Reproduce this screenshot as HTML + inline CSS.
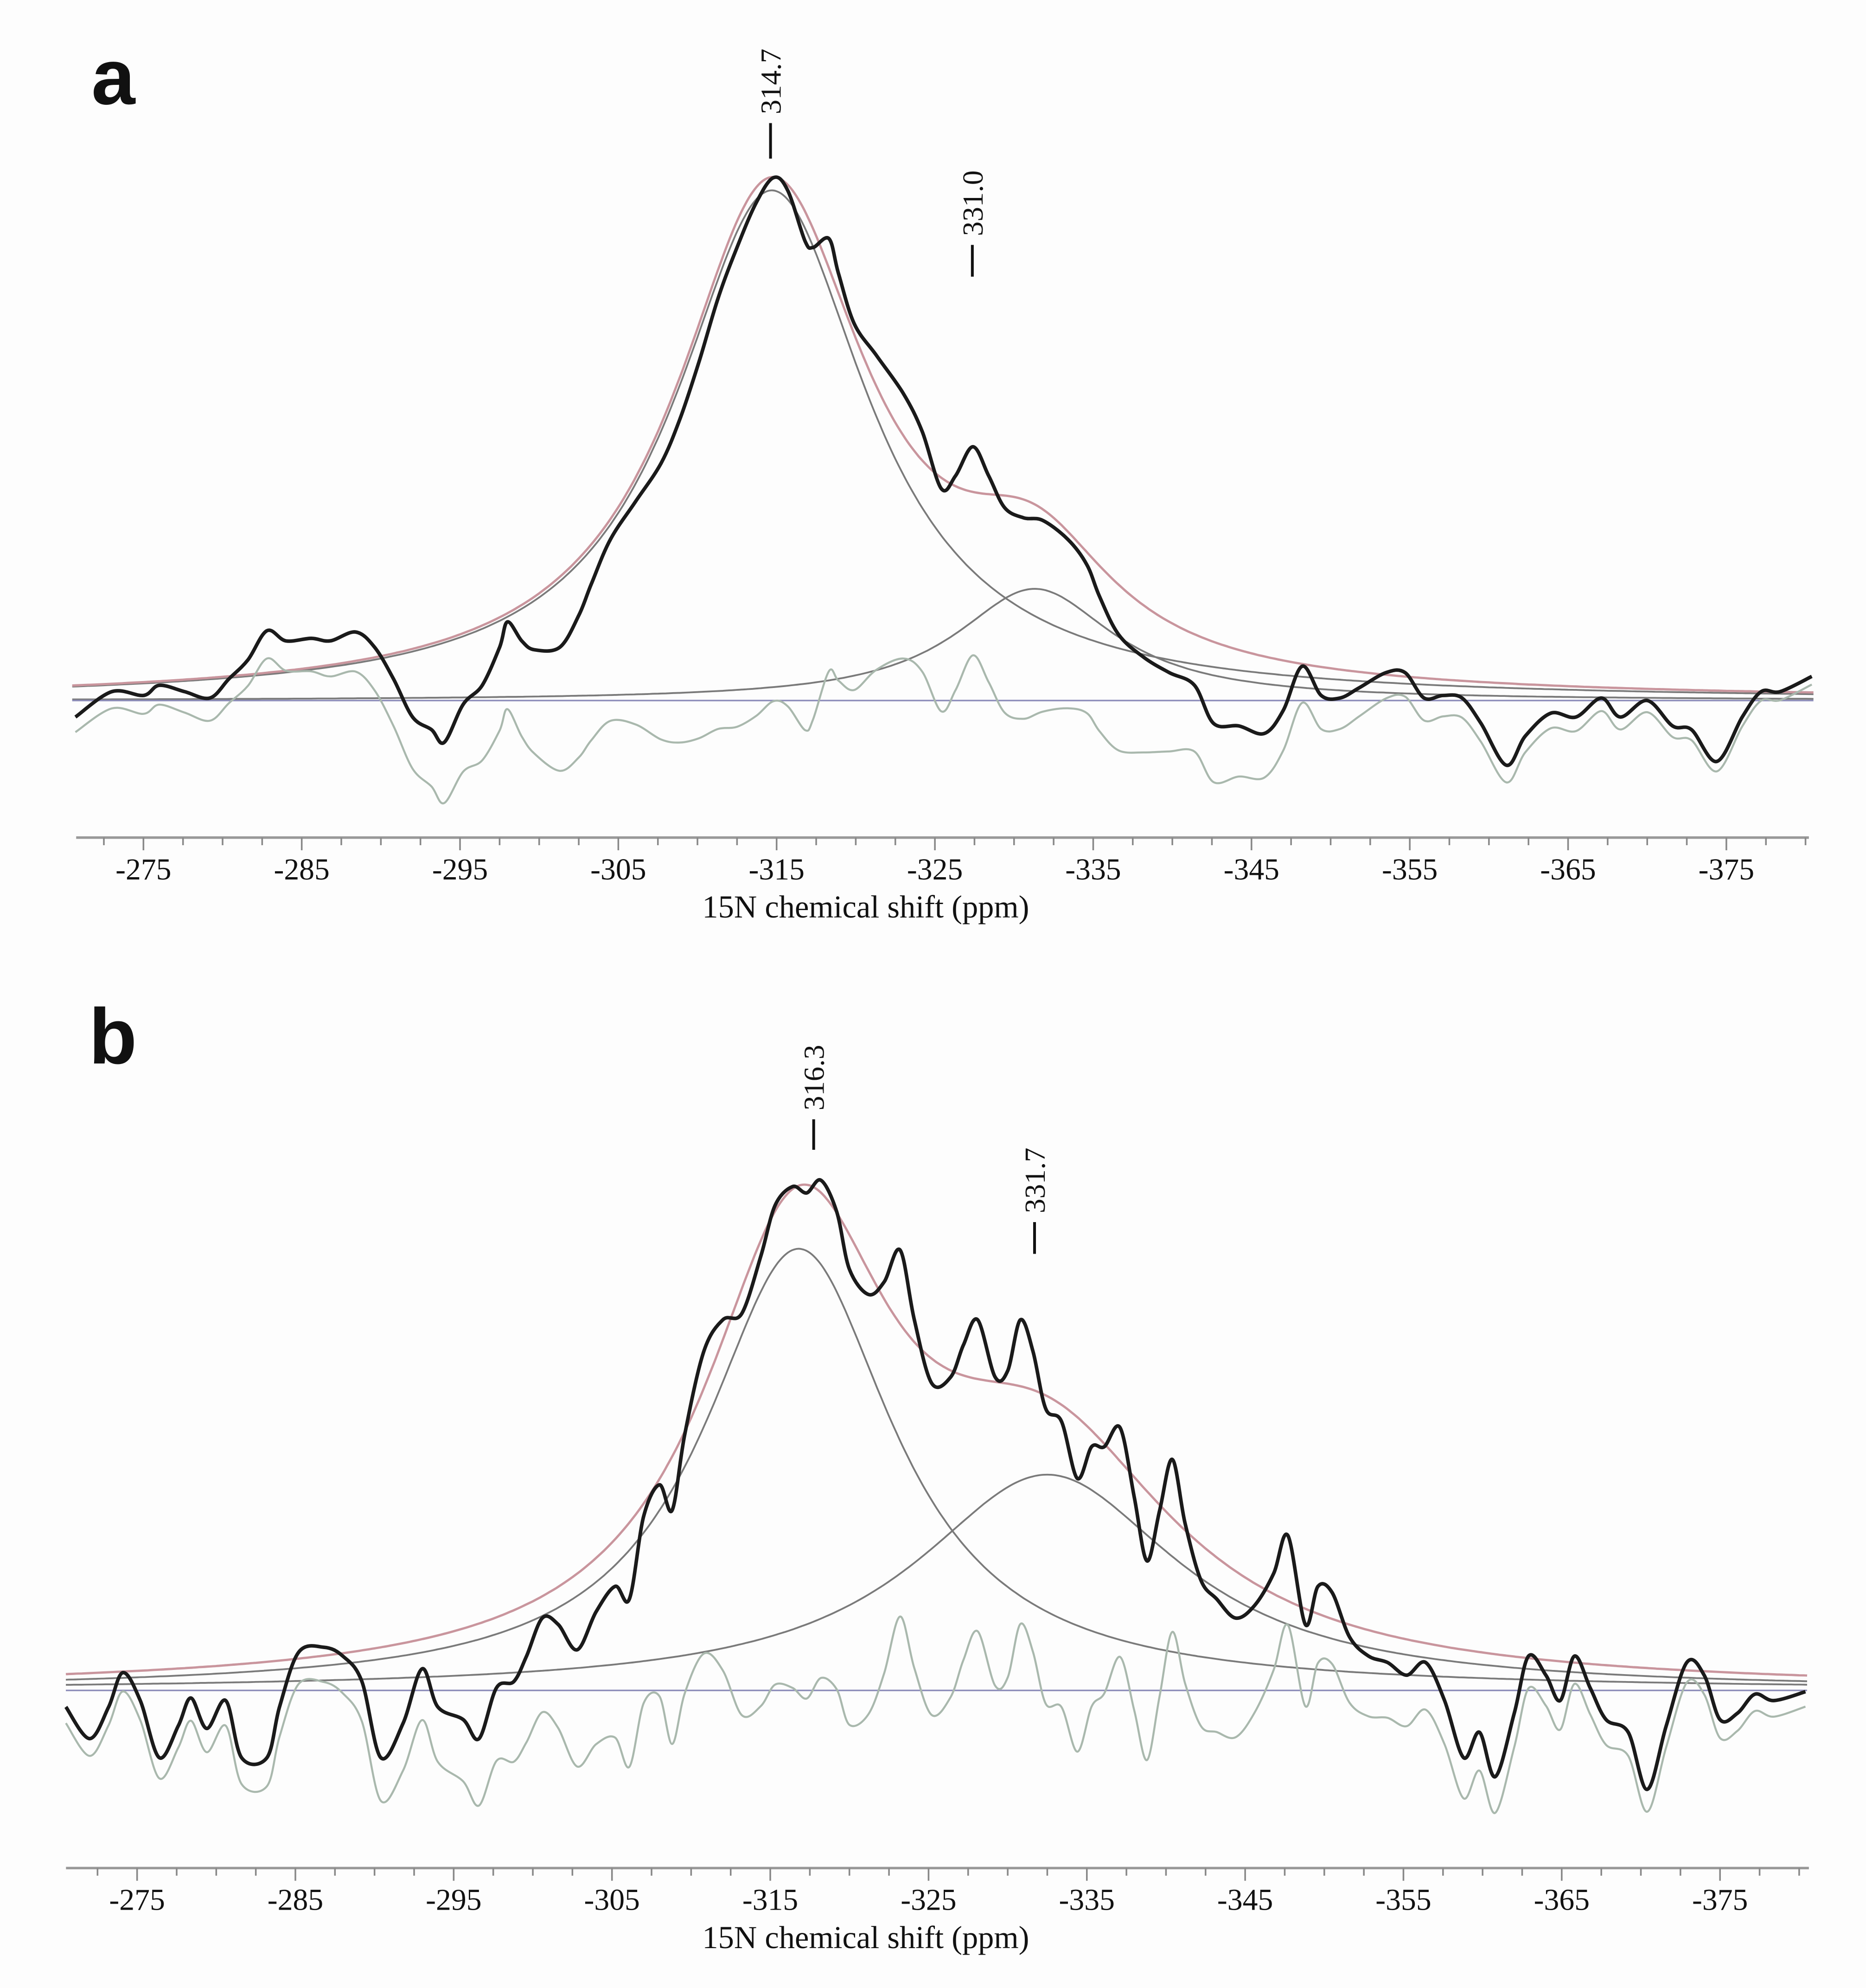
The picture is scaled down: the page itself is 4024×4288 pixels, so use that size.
<!DOCTYPE html>
<html><head><meta charset="utf-8"><style>
html,body{margin:0;padding:0;background:#fdfdfd;}
svg{display:block;}
</style></head><body>
<svg id="chart" width="4024" height="4288" viewBox="0 0 1470 1566.5" preserveAspectRatio="none" xmlns="http://www.w3.org/2000/svg"></svg>
<script>
// ---------- DATA ----------
const tickLabels = [-275,-285,-295,-305,-315,-325,-335,-345,-355,-365,-375];
// Panel a experimental spectrum: ppm, intensity
const aPpm = [-270.7,-273,-275,-276,-277.6,-279.2,-280.4,-281.6,-282.8,-284,-285.6,-286.8,-288.4,-289.6,-290.8,-292,-293.2,-294,-295.2,-296.4,-297.5,-298,-298.9,-299.7,-301.3,-302.5,-303.3,-304.5,-306.1,-307.7,-308.9,-310.1,-311.3,-312.5,-313.7,-314.8,-315.7,-316.8,-317.3,-318.3,-318.9,-319.9,-321.3,-323,-324.2,-325.4,-326.3,-327.4,-328.4,-329.4,-330.6,-331.8,-333.4,-334.6,-335.4,-336.6,-338.2,-339.8,-341.4,-342.6,-344.2,-345.8,-347,-348.2,-349.4,-350.6,-351.8,-353.5,-354.7,-355.9,-357.1,-358.3,-359.5,-361.1,-362.3,-363.9,-365.5,-367.1,-368.3,-370,-371.6,-372.8,-374.4,-376,-377.2,-378.4,-380.4];
const aInt = [-13,7,4,12,7,2,17,32,55,47,49,47,54,42,17,-13,-23,-33,-3,12,42,62,47,40,42,67,92,127,157,187,222,267,317,357,392,412,402,362,357,364,337,297,272,242,212,167,177,200,177,152,144,142,127,107,82,52,34,22,12,-18,-20,-26,-8,27,4,2,10,22,22,2,4,2,-18,-51,-28,-10,-13,2,-13,0,-20,-23,-48,-13,7,7,19];
// Panel a fitted components
const aCenters = [-314.7,-331.3];
const aHeights = [402,88];
const aWidths = [7.4,6.1];
const aPeakLabels = ["314.7","331.0"];
// Panel b experimental spectrum
const bPpm = [-270.5,-272,-273.2,-274.1,-275.2,-276.4,-277.6,-278.4,-279.4,-280.6,-281.6,-283.2,-284,-285.2,-286.8,-288,-289.2,-290.4,-291.8,-293,-294,-295.6,-296.6,-297.7,-298.8,-299.6,-300.6,-301.6,-302.8,-304,-305.2,-306.1,-307,-308,-308.8,-309.6,-310.8,-312,-313.2,-314.4,-315.3,-316.4,-317.3,-318.2,-319.2,-320,-321.2,-322.2,-323.2,-324.1,-325.2,-326.4,-327.2,-328.1,-329.2,-330,-330.8,-331.6,-332.4,-333.4,-334.4,-335.3,-336.1,-337.1,-338,-338.8,-339.6,-340.4,-341.2,-342.2,-343.2,-344.4,-345.6,-346.8,-347.7,-348.8,-349.6,-350.5,-351.6,-352.8,-354,-355.2,-356.4,-357.6,-358.8,-359.8,-360.8,-362,-362.9,-364,-364.9,-365.8,-366.8,-367.8,-369.2,-370.4,-371.6,-372.9,-374,-375,-376.1,-377.2,-378.4,-380.4];
const bInt = [-13,-38,-13,14,-8,-53,-28,-6,-30,-8,-53,-53,-13,30,34,27,7,-53,-26,17,-13,-23,-38,2,7,27,57,52,32,62,82,72,137,162,142,202,267,292,297,342,382,397,392,402,377,332,312,322,347,292,242,247,272,292,247,252,292,267,222,212,167,192,192,207,152,102,142,182,132,87,72,57,67,92,122,52,82,77,42,27,22,12,22,-8,-53,-33,-68,-18,27,12,-8,27,2,-23,-33,-78,-28,22,12,-23,-18,-3,-8,-1];
const bCenters = [-316.8,-332.5];
const bHeights = [348,170];
const bWidths = [7.3,10.1];
const bPeakLabels = ["316.3","331.7"];

// ---------- DRAW ----------
const NS="http://www.w3.org/2000/svg";
const svg=document.getElementById('chart');
function el(tag,attrs,parent){const e=document.createElementNS(NS,tag);for(const k in attrs)e.setAttribute(k,attrs[k]);(parent||svg).appendChild(e);return e;}
function smooth(pts){let d=`M${pts[0][0].toFixed(1)},${pts[0][1].toFixed(1)}`;for(let i=0;i<pts.length-1;i++){const p0=pts[i-1]||pts[i],p1=pts[i],p2=pts[i+1],p3=pts[i+2]||p2;const c1=[p1[0]+(p2[0]-p0[0])/6,p1[1]+(p2[1]-p0[1])/6],c2=[p2[0]-(p3[0]-p1[0])/6,p2[1]-(p3[1]-p1[1])/6];d+=`C${c1[0].toFixed(1)},${c1[1].toFixed(1)} ${c2[0].toFixed(1)},${c2[1].toFixed(1)} ${p2[0].toFixed(1)},${p2[1].toFixed(1)}`;}return d;}
function lor(p,c,h,g){const d=(p-c)/g;return h/(1+d*d);}

function panel(cfg){
  const g=el('g',{});
  
  
  const X=p=>cfg.x0+(-275-p)*12.47;
  const Y=v=>cfg.base-v;
  const L=el('text',{x:cfg.letterX,y:cfg.letterY,'font-family':'Liberation Sans, sans-serif','font-weight':'bold','font-size':62,fill:'#111'},g);
  L.textContent=cfg.letter;
  
  
  const fine=[];for(let p=-270.5;p>=-380.5;p-=0.5)fine.push(p);
  cfg.centers.forEach((c,i)=>{
    const pts=fine.map(p=>[X(p),Y(lor(p,c,cfg.heights[i],cfg.widths[i]))]);
    const path=el('path',{d:smooth(pts),fill:'none',stroke:'#7a7a7a','stroke-width':1.4},g);
    
    
  });
  const bl=el('line',{x1:X(-270.5),x2:X(-380.5),y1:Y(0),y2:Y(0),stroke:'#8a8ab8','stroke-width':1.2},g);
  
  
  const fitSum=p=>cfg.centers.reduce((s,c,i)=>s+lor(p,c,cfg.heights[i],cfg.widths[i]),0);
  const sp=el('path',{d:smooth(fine.map(p=>[X(p),Y(fitSum(p))])),fill:'none',stroke:'#c9959d','stroke-width':1.8},g);
  
  
  const rp=el('path',{d:smooth(cfg.ppm.map((p,i)=>[X(p),Y(cfg.int[i]-fitSum(p))])),fill:'none',stroke:'#a9b8ad','stroke-width':1.6},g);
  
  
  const ep=el('path',{d:smooth(cfg.ppm.map((p,i)=>[X(p),Y(cfg.int[i])])),fill:'none',stroke:'#1a1a1a','stroke-width':2.8,'stroke-linejoin':'round'},g);
  
  
  const ax=el('line',{x1:cfg.axL,x2:1425,y1:cfg.axisY,y2:cfg.axisY,stroke:'#999','stroke-width':2},g);
  
  
  for(let p=-272.5;p>=-380;p-=2.5){
    const major=Math.abs((p+275)%10)<0.01;
    const t=el('line',{x1:X(p),x2:X(p),y1:cfg.axisY,y2:cfg.axisY+(major?10:6),stroke:'#888','stroke-width':1.3},g);
    
    
  }
  tickLabels.forEach(v=>{
    const t=el('text',{x:X(v),y:cfg.axisY+33,'text-anchor':'middle','font-family':'Liberation Serif, serif','font-size':24,fill:'#111'},g);
    t.textContent=String(v);
    
    
  });
  const at=el('text',{x:682,y:cfg.axisY+63,'text-anchor':'middle','font-family':'Liberation Serif, serif','font-size':25,fill:'#111'},g);
  at.textContent='15N chemical shift (ppm)';
  
  
  cfg.labels.forEach((lab,i)=>{
    const lx=cfg.labelX[i],tickTop=cfg.tickTop[i],tickBot=cfg.tickBot[i];
    const tk=el('line',{x1:lx,x2:lx,y1:tickTop,y2:tickBot,stroke:'#111','stroke-width':2.2},g);
    
    
    const tx=el('text',{x:0,y:0,transform:`translate(${lx+8},${tickTop-7}) rotate(-90)`,'font-family':'Liberation Serif, serif','font-size':23,fill:'#111'},g);
    tx.textContent=lab;
    
    
  });
}

panel({name:'panel-a',letter:'a',letterX:72,letterY:82,x0:113,base:552,axisY:660,axL:60,
  ppm:aPpm,int:aInt,centers:aCenters,heights:aHeights,widths:aWidths,labels:aPeakLabels,
  labelX:[607,766],tickTop:[97,193],tickBot:[125,218]});
panel({name:'panel-b',letter:'b',letterX:70,letterY:838,x0:108,base:1332,axisY:1472,axL:52,
  ppm:bPpm,int:bInt,centers:bCenters,heights:bHeights,widths:bWidths,labels:bPeakLabels,
  labelX:[641,815],tickTop:[882,963],tickBot:[906,988]});
</script>
</body></html>
